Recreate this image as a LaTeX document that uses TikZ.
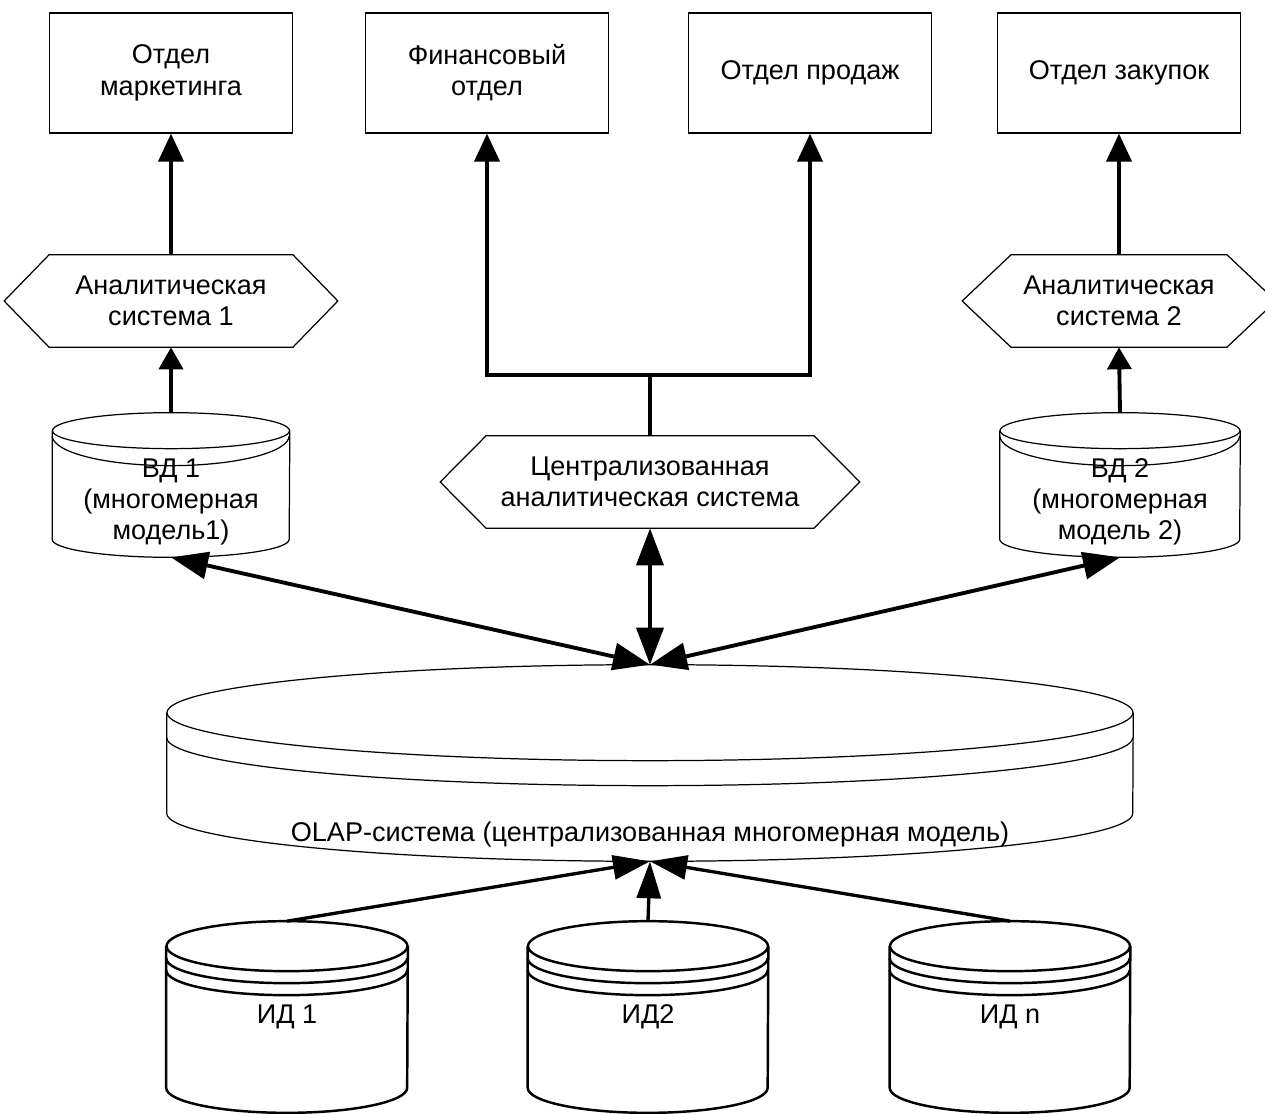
\documentclass[tikz,border=0pt]{standalone}
\usepackage{fontspec}
\setmainfont{Liberation Sans}
\usetikzlibrary{arrows.meta,positioning,calc}

\newcommand{\cilindr}[5]{% #1 node, #2 rx, #3 ry, #4 ry of rings, #5 ring offsets
  \draw ($(#1.north)+(0,#3)$) ellipse [x radius=#2, y radius=#3];
  \draw ($(#1.north west)+(0,#3)$) -- ($(#1.south west)-(0,#3)$)
    arc [start angle=180, end angle=0, x radius=#2, y radius=#3] -- ($(#1.north east)+(0,#3)$);
  \foreach \k in {#5}
    \draw ($(#1.north west)+(0,#3+\k)$) arc [start angle=180, end angle=0, x radius=#2, y radius=#4];
}
\newcommand{\shestiug}[2]{%
  \draw ($(#1.west)-(#2,0)$) -- (#1.north west) -- (#1.north east) -- ($(#1.east)+(#2,0)$)
    -- (#1.south east) -- (#1.south west) -- cycle;
}

\begin{document}
\begin{tikzpicture}[x=0.02cm, y=-0.02cm, line join=miter,
  every node/.style={font=\fontsize{15.4}{17.8}\selectfont, align=center},
  otdel/.style={draw, line width=0.7pt, minimum width=4.86cm, minimum height=2.4cm},
  sistema/.style={minimum height=1.84cm, inner sep=0pt},
  baza/.style={inner sep=0pt},
  strelka/.style={line width=2.2pt, -{Triangle[length=0.56cm, width=0.5cm]}},
  korotkaya/.style={line width=2.2pt, -{Triangle[length=0.44cm, width=0.48cm]}},
  vverh/.style={line width=1.9pt, -{Triangle[length=0.74cm, width=0.48cm]}},
  dvoinaya/.style={line width=2.2pt, {Triangle[length=0.74cm, width=0.54cm]}-{Triangle[length=0.74cm, width=0.54cm]}}]
\useasboundingbox (0,0) rectangle (1265,1114);

\node[otdel] (otd1) at (171,73) {Отдел\\маркетинга};
\node[otdel] (otd2) at (487,73) {Финансовый\\отдел};
\node[otdel] (otd3) at (810,73) {Отдел продаж};
\node[otdel] (otd4) at (1119,73) {Отдел закупок};

\node[sistema, minimum width=4.86cm] (an1) at (171,301) {Аналитическая\\система 1};
\node[sistema, minimum width=4.3cm] (an2) at (1119,301) {Аналитическая\\система 2};
\node[sistema, minimum width=6.54cm] (cas) at (650,482) {Централизованная\\аналитическая система};
\begin{scope}[line width=0.7pt]
\shestiug{an1}{45}
\shestiug{an2}{49}
\shestiug{cas}{46}
\end{scope}

\node[baza, minimum width=4.74cm, minimum height=2.88cm,
  label={[align=center, yshift=-0.34cm]center:ВД 1\\(многомерная\\модель1)}] (vd1) at (171,485) {};
\node[baza, minimum width=4.8cm, minimum height=2.88cm,
  label={[align=center, yshift=-0.34cm]center:ВД 2\\(многомерная\\модель 2)}] (vd2) at (1120,485) {};
\node[baza, minimum width=19.32cm, minimum height=3.92cm,
  label={[yshift=-1.44cm]center:OLAP-система (централизованная многомерная модель)}] (olap) at (650,763) {};
\node[baza, minimum width=4.82cm, minimum height=3.82cm] (id1) at (287,1017) {ИД 1};
\node[baza, minimum width=4.8cm, minimum height=3.82cm] (id2) at (648,1017) {ИД2};
\node[baza, minimum width=4.8cm, minimum height=3.82cm] (idn) at (1010,1017) {ИД n};

\begin{scope}[line width=0.7pt]
\cilindr{vd1}{118.5}{18}{30}{5}
\cilindr{vd2}{120}{18}{30}{5}
\cilindr{olap}{483}{48}{48}{25}
\end{scope}
\begin{scope}[line width=1.4pt]
\cilindr{id1}{120.5}{25}{25}{12,24}
\cilindr{id2}{120}{25}{25}{12,24}
\cilindr{idn}{120}{25}{25}{12,24}
\end{scope}

\draw[strelka] (an1.north) -- (otd1.south);
\draw[korotkaya] (vd1.north) -- (an1.south);
\draw[strelka] (an2.north) -- (otd4.south);
\draw[korotkaya] (vd2.north) -- (an2.south);
\coordinate (razv) at ($(cas.north)+(0,-61)$);
\draw[line width=2.2pt] (cas.north) -- (razv);
\draw[strelka] (razv) -| (otd2.south);
\draw[strelka] (razv) -| (otd3.south);

\draw[dvoinaya] (vd1.south) -- (olap.north);
\draw[dvoinaya] (cas.south) -- (olap.north);
\draw[dvoinaya] (vd2.south) -- (olap.north);
\draw[vverh] (id1.north) -- (olap.south);
\draw[vverh] (id2.north) -- (olap.south);
\draw[vverh] (idn.north) -- (olap.south);
\end{tikzpicture}
\end{document}
